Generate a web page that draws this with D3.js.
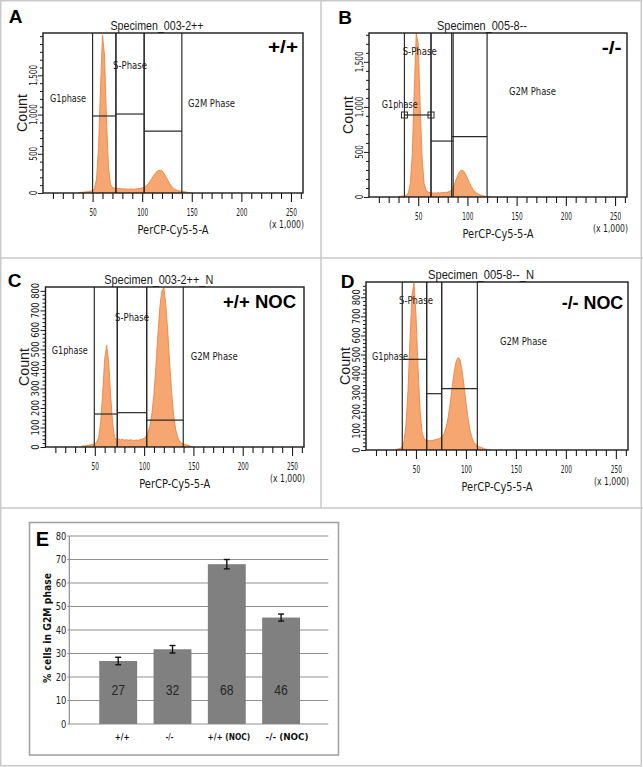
<!DOCTYPE html>
<html><head><meta charset="utf-8">
<script src="https://cdn.jsdelivr.net/npm/d3@7"></script>
<style>
html,body{margin:0;padding:0;background:#fff;}
svg{display:block;}
</style></head>
<body>
<svg id="fig" width="643" height="767"></svg>
<script>
// ---------------- DATA ----------------
// Histogram bins (PerCP-Cy5-5-A, x 1,000) and counts
const binsA = [36,38,40,42,44,46,48,50,52,54,56,58,60,62,64,66,68,70,72,74,76,78,80,82,84,86,88,90,92,94,96,98,100,102,104,106,108,110,112,114,116,118,120,122,124,126,128,130,132,134,136,138,140,142,144,146,148,150];
const countsA = [5,8,10,12,15,18,22,30,60,180,580,1350,2010,1760,950,330,110,70,62,60,58,55,52,55,50,48,52,50,48,52,55,60,65,75,90,115,150,190,230,265,285,292,280,250,205,160,115,80,55,40,30,25,22,18,14,8,3,0];

const binsB = [30,32,34,36,38,40,42,44,46,48,50,52,54,56,58,60,62,64,66,68,70,72,74,76,78,80,82,84,86,88,90,92,94,96,98,100,102,104,106,108,110,112,114,116,118,120,122,124];
const countsB = [5,8,10,14,20,45,150,480,1200,1815,1700,1000,420,150,75,55,48,45,44,45,46,45,48,50,52,55,62,80,120,175,235,280,298,290,255,210,160,115,80,55,38,28,20,14,9,5,2,0];

const binsC = [36,38,40,42,44,46,48,50,52,54,56,58,60,62,64,66,68,70,72,74,76,78,80,82,84,86,88,90,92,94,96,98,100,102,104,106,108,110,112,114,116,118,120,122,124,126,128,130,132,134,136,138,140,142,144,146,148,150];
const countsC = [3,5,6,8,10,12,14,16,25,50,130,280,450,522,440,270,125,50,38,42,36,40,35,38,34,37,35,33,36,34,38,40,45,55,75,110,175,275,415,575,720,800,816,730,590,420,275,160,90,50,30,20,15,12,10,6,2,0];

const binsD = [30,32,34,36,38,40,42,44,46,48,50,52,54,56,58,60,62,64,66,68,70,72,74,76,78,80,82,84,86,88,90,92,94,96,98,100,102,104,106,108,110,112,114,116,118,120,122,124];
const countsD = [3,5,8,15,45,130,310,575,810,875,710,440,215,95,60,52,50,48,50,52,55,58,62,70,85,115,165,235,320,400,460,484,475,420,340,250,170,105,65,40,28,20,15,12,8,4,2,0];

// Gates: [start, end, marker level]
const gateNames = ["G1phase", "S-Phase", "G2M Phase"];
const gatesA = [[50, 73.5, 982], [73.5, 102, 1007], [102, 140, 790]];
const gatesB = [[36, 63, 910], [63, 85.5, 621], [84, 120, 669]];
const gatesC = [[49.5, 72.8, 169], [72.8, 102.6, 176], [102.6, 139.7, 138]];
const gatesD = [[36.3, 60.7, 475], [60.7, 75.7, 295], [75.7, 111.4, 321]];

const titles = ["Specimen_003-2++", "Specimen_005-8--", "Specimen_003-2++_N", "Specimen_005-8--_N"];
const genotypes = ["+/+", "-/-", "+/+ NOC", "-/- NOC"];
const panelLetters = ["A", "B", "C", "D"];

const xTickLabels = [50, 100, 150, 200, 250];
const yTicksAB = [0, 500, 1000, 1500];
const yTicksCD = [0, 100, 200, 300, 400, 500, 600, 700, 800];

// Panel E
const categoriesE = ["+/+", "-/-", "+/+ (NOC)", "-/- (NOC)"];
const valuesE = [26.8, 31.8, 68.0, 45.3];
const errorsE = [1.6, 1.6, 2.0, 1.5];
const valueLabelsE = ["27", "32", "68", "46"];
const yTicksE = [0, 10, 20, 30, 40, 50, 60, 70, 80];

// ---------------- LAYOUT / STYLE ----------------
const layout = [
  {bins: binsA, counts: countsA, gates: gatesA, yTicks: yTicksAB, ymax: 2040, ydw: 4.6,
   left: 43, right: 303, top: 33, bottom: 193, letter: [15.5, 16], annot: [298, 47], annotW: 30, titleW: 93,
   labelPos: [[7.1, 1211], [70.6, 1632], [146.2, 1148]], handles: false},
  {bins: binsB, counts: countsB, gates: gatesB, yTicks: yTicksAB, ymax: 1820, ydw: 4.6,
   left: 369, right: 627, top: 33, bottom: 197, letter: [345, 17], annot: [621.7, 48], annotW: 20, titleW: 90,
   labelPos: [[12.9, 1032], [34.2, 1620], [142.2, 1176]], handles: true},
  {bins: binsC, counts: countsC, gates: gatesC, yTicks: yTicksCD, ymax: 820, ydw: 5.3,
   left: 45.5, right: 304, top: 287, bottom: 447, letter: [14.5, 280], annot: [296, 301.7], annotW: 73, titleW: 109,
   labelPos: [[6.3, 497], [70.5, 666], [147.2, 466]], handles: false},
  {bins: binsD, counts: countsD, gates: gatesD, yTicks: yTicksCD, ymax: 880, ydw: 5.3,
   left: 366, right: 628, top: 282, bottom: 450, letter: [347.5, 281.7], annot: [623.3, 302.7], annotW: 61.6, titleW: 106,
   labelPos: [[6, 492], [33, 782], [134, 571]], handles: false}
];
const gateLabelW = [36, 34, 47];

const FONT = "'DejaVu Sans',sans-serif";
const SANS = "'Liberation Sans',Arial,sans-serif";

function fit(sel, w) { return sel.attr("textLength", w).attr("lengthAdjust", "spacingAndGlyphs"); }
function numW(str, dw) { let w = 0; for (const ch of String(str)) w += /[0-9]/.test(ch) ? dw : dw * 0.5; return w; }

const svg = d3.select("#fig");

// Figure grid
const grid = svg.append("g").attr("fill", "none").attr("stroke", "#c9c9c9").attr("stroke-width", 1.5);
grid.append("rect").attr("x", 0.75).attr("y", 0.75).attr("width", 640.5).attr("height", 765);
grid.append("line").attr("x1", 321).attr("x2", 321).attr("y1", 0).attr("y2", 508);
grid.append("line").attr("x1", 0).attr("x2", 643).attr("y1", 258).attr("y2", 258);
grid.append("line").attr("x1", 0).attr("x2", 643).attr("y1", 508).attr("y2", 508);

const defs = svg.append("defs");

layout.forEach((p, i) => {
  const g = svg.append("g");
  const x = d3.scaleLinear().domain([0, 262.144]).range([p.left, p.right]);
  const y = d3.scaleLinear().domain([0, p.ymax]).range([p.bottom, p.top]);

  defs.append("clipPath").attr("id", "clip" + i)
    .append("rect").attr("x", p.left).attr("y", p.top)
    .attr("width", p.right - p.left).attr("height", p.bottom - p.top);

  const data = p.bins.map((b, k) => ({v: b, c: p.counts[k]}));
  const plot = g.append("g").attr("clip-path", `url(#clip${i})`);
  plot.append("path").datum(data)
    .attr("d", d3.area().x(d => x(d.v)).y0(y(0)).y1(d => y(d.c)))
    .attr("fill", "#F6A670");
  plot.append("path").datum(data)
    .attr("d", d3.line().x(d => x(d.v)).y(d => y(d.c)))
    .attr("fill", "none").attr("stroke", "#EC8544").attr("stroke-width", 0.9);

  // gates
  const gg = g.append("g").attr("stroke", "#2a2a2a").attr("stroke-width", 1.2).attr("fill", "none");
  p.gates.forEach(gt => {
    [gt[0], gt[1]].forEach(v => {
      gg.append("line").attr("x1", x(v)).attr("x2", x(v)).attr("y1", p.top).attr("y2", p.bottom);
    });
    gg.append("line").attr("x1", x(gt[0])).attr("x2", x(gt[1])).attr("y1", y(gt[2])).attr("y2", y(gt[2]));
  });
  if (p.handles) {
    const gt = p.gates[0];
    [gt[0], gt[1]].forEach(v => {
      gg.append("rect").attr("x", x(v) - 3).attr("y", y(gt[2]) - 3).attr("width", 6).attr("height", 6)
        .attr("fill", "none").attr("stroke", "#2a2a2a").attr("stroke-width", 1);
    });
  }

  // gate labels
  p.labelPos.forEach((lp, k) => {
    fit(g.append("text").attr("x", x(lp[0])).attr("y", y(lp[1])).attr("dy", "0.35em")
      .attr("font-family", FONT).attr("font-size", 10.5).attr("fill", "#1a1a1a")
      .text(gateNames[k]), gateLabelW[k]);
  });

  // frame
  g.append("rect").attr("x", p.left).attr("y", p.top)
    .attr("width", p.right - p.left).attr("height", p.bottom - p.top)
    .attr("fill", "none").attr("stroke", "#1a1a1a").attr("stroke-width", 1.4);

  // x axis
  const xAxis = d3.axisBottom(x).tickValues(d3.range(10, 261, 10)).tickSize(6).tickSizeOuter(0)
    .tickFormat(d => xTickLabels.includes(d) ? d : "");
  const xa = g.append("g").attr("transform", `translate(0,${p.bottom})`).call(xAxis);
  xa.select(".domain").remove();
  xa.selectAll(".tick line").attr("stroke", "#1a1a1a").attr("stroke-width", 1.1)
    .attr("y2", d => xTickLabels.includes(d) ? 9 : 6);
  xa.selectAll(".tick text").attr("y", 15.5).attr("dy", "0.71em")
    .attr("font-family", FONT).attr("font-size", 10).attr("fill", "#1a1a1a")
    .each(function(d) { if (xTickLabels.includes(d)) fit(d3.select(this), numW(d, 3.7)); });

  fit(g.append("text").attr("x", p.right + 1).attr("y", p.bottom + 31).attr("dy", "0.35em")
    .attr("text-anchor", "end").attr("font-family", FONT).attr("font-size", 10).attr("fill", "#1a1a1a")
    .text("(x 1,000)"), 35);
  fit(g.append("text").attr("x", (p.left + p.right) / 2).attr("y", p.bottom + 37).attr("dy", "0.35em")
    .attr("text-anchor", "middle").attr("font-family", FONT).attr("font-size", 12).attr("fill", "#1a1a1a")
    .text("PerCP-Cy5-5-A"), 71);

  // y axis
  const step = p.ymax > 1000 ? 100 : 20;
  const yAxis = d3.axisLeft(y).tickValues(d3.range(0, p.ymax, step)).tickSize(3).tickSizeOuter(0).tickFormat("");
  const ya = g.append("g").attr("transform", `translate(${p.left},0)`).call(yAxis);
  ya.select(".domain").remove();
  ya.selectAll(".tick line").attr("stroke", "#1a1a1a").attr("stroke-width", 1)
    .attr("x2", d => p.yTicks.includes(d) ? -5 : -3);
  p.yTicks.forEach(t => {
    const lab = d3.format(",")(t);
    fit(g.append("text").attr("transform", `translate(${p.left - 10},${y(t)}) rotate(-90)`)
      .attr("text-anchor", "middle").attr("dy", "0.35em")
      .attr("font-family", FONT).attr("font-size", 10).attr("fill", "#1a1a1a")
      .text(lab), numW(lab, p.ydw));
  });
  fit(g.append("text").attr("transform", `translate(${p.left - 21},${(p.top + p.bottom) / 2}) rotate(-90)`)
    .attr("text-anchor", "middle").attr("dy", "0.35em")
    .attr("font-family", SANS).attr("font-size", 14).attr("fill", "#1a1a1a").text("Count"), 38);

  // title
  fit(g.append("text").attr("x", (p.left + p.right) / 2 - 16).attr("y", p.top - 7.5).attr("dy", "0.35em")
    .attr("text-anchor", "middle").attr("font-family", SANS).attr("font-size", 12.5).attr("fill", "#1a1a1a")
    .text(titles[i]), p.titleW);
  // genotype annotation
  fit(g.append("text").attr("x", p.annot[0]).attr("y", p.annot[1]).attr("dy", "0.35em")
    .attr("text-anchor", "end").attr("font-family", SANS).attr("font-weight", "bold")
    .attr("font-size", 18).attr("fill", "#000").text(genotypes[i]), p.annotW);
  // panel letter
  g.append("text").attr("x", p.letter[0]).attr("y", p.letter[1]).attr("dy", "0.35em")
    .attr("text-anchor", "middle").attr("font-family", SANS).attr("font-weight", "bold")
    .attr("font-size", 19).attr("fill", "#000").text(panelLetters[i]);
});

// ---------------- PANEL E ----------------
const e = {left: 69.3, right: 328.3, top: 536, bottom: 724};
const eg = svg.append("g");
eg.append("rect").attr("x", 29.5).attr("y", 522.5).attr("width", 309).attr("height", 232.5)
  .attr("fill", "#fff").attr("stroke", "#a3a3a3").attr("stroke-width", 1.6);

const ye = d3.scaleLinear().domain([0, 80]).range([e.bottom, e.top]);
const xe = d3.scaleBand().domain(categoriesE).range([91.1, 308.2]).paddingInner(0.302).paddingOuter(0.15);

yTicksE.forEach(t => {
  eg.append("line").attr("x1", e.left - 2).attr("x2", e.right).attr("y1", ye(t)).attr("y2", ye(t))
    .attr("stroke", "#8f8f8f").attr("stroke-width", 1.2);
  fit(eg.append("text").attr("x", e.left - 3).attr("y", ye(t)).attr("dy", "0.35em").attr("text-anchor", "end")
    .attr("font-family", FONT).attr("font-size", 10).attr("fill", "#222").text(t), numW(t, 5.3));
});
eg.append("line").attr("x1", e.left).attr("x2", e.left).attr("y1", e.top).attr("y2", e.bottom)
  .attr("stroke", "#8f8f8f").attr("stroke-width", 1.2);

eg.selectAll("rect.bar").data(valuesE).enter().append("rect").attr("class", "bar")
  .attr("x", (d, i) => xe(categoriesE[i])).attr("width", xe.bandwidth())
  .attr("y", d => ye(d)).attr("height", d => ye(0) - ye(d)).attr("fill", "#808080");

const catW = [15, 7.5, 42.7, 43];
const catShift = [4, -3, 2, 6];
valuesE.forEach((v, i) => {
  const cx = xe(categoriesE[i]) + xe.bandwidth() / 2;
  const lo = ye(v - errorsE[i]), hi = ye(v + errorsE[i]);
  const eb = eg.append("g").attr("stroke", "#111").attr("stroke-width", 1.4);
  eb.append("line").attr("x1", cx).attr("x2", cx).attr("y1", lo).attr("y2", hi);
  eb.append("line").attr("x1", cx - 3).attr("x2", cx + 3).attr("y1", lo).attr("y2", lo);
  eb.append("line").attr("x1", cx - 3).attr("x2", cx + 3).attr("y1", hi).attr("y2", hi);
  fit(eg.append("text").attr("x", cx).attr("y", 690).attr("dy", "0.35em").attr("text-anchor", "middle")
    .attr("font-family", SANS).attr("font-size", 14).attr("fill", "#262626").text(valueLabelsE[i]), 13.5);
  fit(eg.append("text").attr("x", cx + catShift[i]).attr("y", 737).attr("dy", "0.35em").attr("text-anchor", "middle")
    .attr("font-family", FONT).attr("font-weight", "bold").attr("font-size", 8.5).attr("fill", "#111")
    .text(categoriesE[i]), catW[i]);
});

fit(eg.append("text").attr("transform", "translate(47.7,628) rotate(-90)").attr("text-anchor", "middle")
  .attr("dy", "0.35em").attr("font-family", FONT).attr("font-weight", "bold").attr("font-size", 10.5)
  .attr("fill", "#111").text("% cells in G2M phase"), 110);
eg.append("text").attr("x", 42.5).attr("y", 539).attr("dy", "0.35em").attr("text-anchor", "middle")
  .attr("font-family", SANS).attr("font-weight", "bold").attr("font-size", 20).attr("fill", "#000").text("E");
</script>
</body></html>
